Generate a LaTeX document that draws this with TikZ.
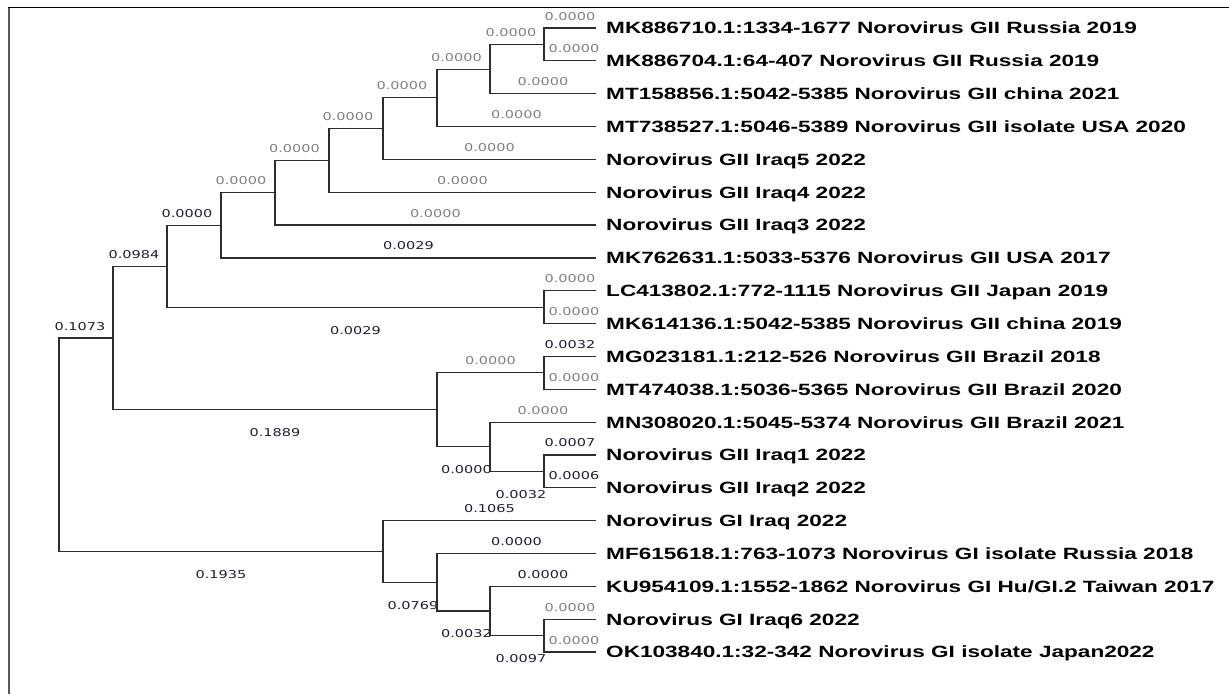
\documentclass[tikz,border=0pt]{standalone}
\usepackage{fontspec}
\setmainfont{Liberation Sans}
\newfontfamily\leaffont[FakeStretch=1.385]{Liberation Sans}
\newfontfamily\numfont[FakeStretch=1.34]{DejaVu Sans}
\usepackage{tikz}
\usetikzlibrary{positioning}
\definecolor{treeline}{RGB}{45,45,45}
\definecolor{lendark}{RGB}{30,30,50}
\definecolor{lengray}{RGB}{128,128,128}
\tikzset{
  branch/.style={draw=treeline, line width=1.2pt},
  taxon/.style={font=\leaffont\bfseries\fontsize{16.3}{19}\selectfont, text=black,
    inner sep=0pt},
  blen/.style={font=\numfont\fontsize{10.8}{12}\selectfont, text=lendark,
    inner sep=0pt, anchor=base, pos=.75},
  lup/.style={blen, yshift=8pt},
  ldn/.style={blen, yshift=-27pt},
  gr/.style={text=lengray}
}

\begin{document}
\begin{tikzpicture}[x=1pt, y=-1pt]
\useasboundingbox (0,0) rectangle (1229,694);
% frame
\draw[line width=2pt, black!65] (8.5,7) -- (8.5,694);
\draw[line width=1.5pt, black] (8,7.5) -- (1229,7.5);

% leaf tips
\coordinate (l1)  at (596,28.0);
\coordinate (l2)  at (596,60.8);
\coordinate (l3)  at (596,93.7);
\coordinate (l4)  at (596,126.5);
\coordinate (l5)  at (596,159.4);
\coordinate (l6)  at (596,192.2);
\coordinate (l7)  at (596,225.0);
\coordinate (l8)  at (596,257.9);
\coordinate (l9)  at (596,290.7);
\coordinate (l10) at (596,323.6);
\coordinate (l11) at (596,356.4);
\coordinate (l12) at (596,389.2);
\coordinate (l13) at (596,422.1);
\coordinate (l14) at (596,454.9);
\coordinate (l15) at (596,487.8);
\coordinate (l16) at (596,520.6);
\coordinate (l17) at (596,553.4);
\coordinate (l18) at (596,586.3);
\coordinate (l19) at (596,619.1);
\coordinate (l20) at (596,652.0);

% internal nodes
\coordinate (rus)   at (544,44.4);
\coordinate (chn)   at (490,69.1);
\coordinate (usa)   at (437,97.8);
\coordinate (iq5n)  at (383,128.6);
\coordinate (iq4n)  at (329,160.4);
\coordinate (iq3n)  at (275,192.7);
\coordinate (usa17) at (221,225.3);
\coordinate (jpcn)  at (544,307.2);
\coordinate (giiA)  at (167,266.2);
\coordinate (brz)   at (544,372.8);
\coordinate (iq12)  at (544,471.4);
\coordinate (brz21) at (490,446.7);
\coordinate (giiB)  at (437,409.8);
\coordinate (gii)   at (113,338.0);
\coordinate (iq6jp) at (544,635.5);
\coordinate (twn)   at (490,610.9);
\coordinate (rus18) at (437,582.2);
\coordinate (gi)    at (383,551.4);
\coordinate (root)  at (59,444.7);

% taxa
\node (t1)  [taxon, right=10pt of l1,  anchor=base west, yshift=-5.9pt] {MK886710.1:1334-1677 Norovirus GII Russia 2019};
\node (t2)  [taxon, right=10pt of l2,  anchor=base west, yshift=-5.9pt] {MK886704.1:64-407 Norovirus GII Russia 2019};
\node (t3)  [taxon, right=10pt of l3,  anchor=base west, yshift=-5.9pt] {MT158856.1:5042-5385 Norovirus GII china 2021};
\node (t4)  [taxon, right=10pt of l4,  anchor=base west, yshift=-5.9pt] {MT738527.1:5046-5389 Norovirus GII isolate USA 2020};
\node (t5)  [taxon, right=10pt of l5,  anchor=base west, yshift=-5.9pt] {Norovirus GII Iraq5 2022};
\node (t6)  [taxon, right=10pt of l6,  anchor=base west, yshift=-5.9pt] {Norovirus GII Iraq4 2022};
\node (t7)  [taxon, right=10pt of l7,  anchor=base west, yshift=-5.9pt] {Norovirus GII Iraq3 2022};
\node (t8)  [taxon, right=10pt of l8,  anchor=base west, yshift=-5.9pt] {MK762631.1:5033-5376 Norovirus GII USA 2017};
\node (t9)  [taxon, right=10pt of l9,  anchor=base west, yshift=-5.9pt] {LC413802.1:772-1115 Norovirus GII Japan 2019};
\node (t10) [taxon, right=10pt of l10, anchor=base west, yshift=-5.9pt] {MK614136.1:5042-5385 Norovirus GII china 2019};
\node (t11) [taxon, right=10pt of l11, anchor=base west, yshift=-5.9pt] {MG023181.1:212-526 Norovirus GII Brazil 2018};
\node (t12) [taxon, right=10pt of l12, anchor=base west, yshift=-5.9pt] {MT474038.1:5036-5365 Norovirus GII Brazil 2020};
\node (t13) [taxon, right=10pt of l13, anchor=base west, yshift=-5.9pt] {MN308020.1:5045-5374 Norovirus GII Brazil 2021};
\node (t14) [taxon, right=10pt of l14, anchor=base west, yshift=-5.9pt] {Norovirus GII Iraq1 2022};
\node (t15) [taxon, right=10pt of l15, anchor=base west, yshift=-5.9pt] {Norovirus GII Iraq2 2022};
\node (t16) [taxon, right=10pt of l16, anchor=base west, yshift=-5.9pt] {Norovirus GI Iraq 2022};
\node (t17) [taxon, right=10pt of l17, anchor=base west, yshift=-5.9pt] {MF615618.1:763-1073 Norovirus GI isolate Russia 2018};
\node (t18) [taxon, right=10pt of l18, anchor=base west, yshift=-5.9pt] {KU954109.1:1552-1862 Norovirus GI Hu/GI.2 Taiwan 2017};
\node (t19) [taxon, right=10pt of l19, anchor=base west, yshift=-5.9pt] {Norovirus GI Iraq6 2022};
\node (t20) [taxon, right=10pt of l20, anchor=base west, yshift=-5.9pt] {OK103840.1:32-342 Norovirus GI isolate Japan2022};

% GII clade
\draw[branch] (rus)   |- node[lup,gr]{0.0000} (l1);
\draw[branch] (rus)   |- node[lup,gr,xshift=4pt]{0.0000} (l2);
\draw[branch] (chn)   |- node[lup,gr,xshift=-6pt]{0.0000} (rus);
\draw[branch] (chn)   |- node[lup,gr]{0.0000} (l3);
\draw[branch] (usa)   |- node[lup,gr,xshift=-7pt]{0.0000} (chn);
\draw[branch] (usa)   |- node[lup,gr]{0.0000} (l4);
\draw[branch] (iq5n)  |- node[lup,gr,xshift=-8pt]{0.0000} (usa);
\draw[branch] (iq5n)  |- node[lup,gr]{0.0000} (l5);
\draw[branch] (iq4n)  |- node[lup,gr,xshift=-8pt]{0.0000} (iq5n);
\draw[branch] (iq4n)  |- node[lup,gr]{0.0000} (l6);
\draw[branch] (iq3n)  |- node[lup,gr,xshift=-7.5pt]{0.0000} (iq4n);
\draw[branch] (iq3n)  |- node[lup,gr]{0.0000} (l7);
\draw[branch] (usa17) |- node[lup,gr,xshift=-7pt]{0.0000} (iq3n);
\draw[branch] (usa17) |- node[lup]{0.0029} (l8);
\draw[branch] (giiA)  |- node[lup,xshift=-7pt]{0.0000} (usa17);
\draw[branch] (giiA)  |- node[ldn]{0.0029} (jpcn);
\draw[branch] (jpcn)  |- node[lup,gr]{0.0000} (l9);
\draw[branch] (jpcn)  |- node[lup,gr,xshift=4pt]{0.0000} (l10);
\draw[branch] (gii)   |- node[lup,xshift=-6pt]{0.0984} (giiA);
\draw[branch] (gii)   |- node[ldn]{0.1889} (giiB);
\draw[branch] (brz)   |- node[lup]{0.0032} (l11);
\draw[branch] (brz)   |- node[lup,gr,xshift=4pt]{0.0000} (l12);
\draw[branch] (giiB)  |- node[lup,gr]{0.0000} (brz);
\draw[branch] (giiB)  |- node[ldn,xshift=3pt]{0.0000} (brz21);
\draw[branch] (brz21) |- node[lup,gr]{0.0000} (l13);
\draw[branch] (brz21) |- node[ldn,xshift=4pt]{0.0032} (iq12);
\draw[branch] (iq12)  |- node[lup]{0.0007} (l14);
\draw[branch] (iq12)  |- node[lup,xshift=4pt]{0.0006} (l15);

% root and GI clade
\draw[branch] (root)  |- node[lup,xshift=-6pt]{0.1073} (gii);
\draw[branch] (root)  |- node[ldn]{0.1935} (gi);
\draw[branch] (gi)    |- node[lup]{0.1065} (l16);
\draw[branch] (gi)    |- node[ldn,xshift=3pt]{0.0769} (rus18);
\draw[branch] (rus18) |- node[lup]{0.0000} (l17);
\draw[branch] (rus18) |- node[ldn,xshift=3pt]{0.0032} (twn);
\draw[branch] (twn)   |- node[lup]{0.0000} (l18);
\draw[branch] (twn)   |- node[ldn,xshift=4pt]{0.0097} (iq6jp);
\draw[branch] (iq6jp) |- node[lup,gr]{0.0000} (l19);
\draw[branch] (iq6jp) |- node[lup,gr,xshift=4pt]{0.0000} (l20);
\end{tikzpicture}
\end{document}
